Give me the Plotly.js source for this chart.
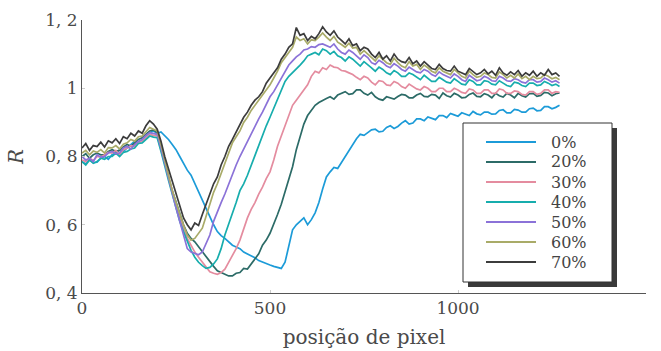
<!DOCTYPE html>
<html>
<head>
<meta charset="utf-8">
<script src="https://cdn.plot.ly/plotly-3.0.1.min.js"></script>
<style>
  html, body { margin: 0; padding: 0; background: #fff; }
  #chart { width: 661px; height: 351px; }
</style>
</head>
<body>
<div id="chart"></div>
<script>
// Pixel positions along the profile (every 10 px)
const pixelPos = [
  0,10,20,30,40,50,60,70,80,90,
  100,110,120,130,140,150,160,170,180,190,
  200,210,220,230,240,250,260,270,280,290,
  300,310,320,330,340,350,360,370,380,390,
  400,410,420,430,440,450,460,470,480,490,
  500,510,520,530,540,550,560,570,580,590,
  600,610,620,630,640,650,660,670,680,690,
  700,710,720,730,740,750,760,770,780,790,
  800,810,820,830,840,850,860,870,880,890,
  900,910,920,930,940,950,960,970,980,990,
  1000,1010,1020,1030,1040,1050,1060,1070,1080,1090,
  1100,1110,1120,1130,1140,1150,1160,1170,1180,1190,
  1200,1210,1220,1230,1240,1250,1260,1270];

const labels = ['0%', '20%', '30%', '40%', '50%', '60%', '70%'];
const colors = ['#1c9bd8', '#2c6b67', '#e48c9f', '#17adad', '#8b72d8', '#a9ab68', '#3c3c3c'];

// Reflectance profiles, one per concentration
const r0 = [
  .785,.778,.79,.782,.783,.795,.80,.792,.805,.81,
  .82,.815,.825,.835,.845,.84,.85,.862,.87,.875,
  .868,.872,.862,.85,.835,.82,.80,.78,.76,.745,
  .72,.695,.67,.65,.625,.60,.58,.568,.56,.55,
  .54,.535,.53,.52,.515,.508,.503,.495,.49,.486,
  .482,.478,.475,.472,.49,.535,.585,.60,.61,.62,
  .60,.615,.635,.665,.705,.74,.755,.768,.765,.782,
  .80,.82,.835,.852,.865,.862,.87,.878,.88,.872,
  .874,.885,.89,.882,.888,.898,.905,.895,.898,.91,
  .91,.905,.916,.912,.908,.92,.92,.914,.926,.922,
  .918,.928,.925,.92,.932,.925,.922,.93,.93,.924,
  .925,.935,.937,.928,.928,.938,.936,.93,.93,.94,
  .942,.934,.935,.946,.946,.94,.944,.95];
const r20 = [
  .80,.808,.795,.805,.81,.805,.805,.815,.82,.815,
  .818,.828,.835,.83,.84,.85,.855,.865,.875,.878,
  .87,.825,.78,.74,.70,.665,.63,.60,.575,.56,
  .55,.535,.52,.505,.49,.478,.465,.46,.455,.45,
  .45,.458,.46,.472,.47,.485,.50,.515,.54,.555,
  .575,.60,.63,.66,.695,.73,.77,.82,.86,.895,
  .92,.935,.95,.958,.965,.97,.975,.968,.98,.985,
  .99,.982,.984,.995,.995,.985,.98,.988,.975,.968,
  .965,.975,.972,.968,.976,.982,.98,.972,.972,.98,
  .985,.976,.975,.982,.98,.97,.986,.978,.974,.985,
  .98,.972,.973,.982,.986,.976,.975,.984,.98,.972,
  .985,.978,.974,.985,.98,.972,.985,.978,.974,.984,
  .985,.976,.979,.988,.986,.978,.984,.986];
const r30 = [
  .79,.785,.795,.788,.80,.798,.805,.812,.81,.818,
  .805,.82,.825,.832,.83,.84,.845,.855,.865,.862,
  .86,.82,.78,.74,.70,.66,.62,.59,.56,.54,
  .52,.505,.49,.475,.462,.458,.455,.46,.47,.49,
  .51,.53,.555,.59,.62,.645,.665,.69,.71,.735,
  .755,.79,.83,.86,.89,.925,.95,.965,.98,.995,
  1.01,1.035,1.05,1.045,1.06,1.055,1.068,1.062,1.06,1.052,
  1.05,1.045,1.04,1.032,1.025,1.035,1.03,1.018,1.01,1.022,
  1.02,1.01,1.008,1.02,1.015,1.005,1.0,1.012,1.005,.998,
  .995,1.005,1.0,.99,.99,1.0,1.0,.99,.99,1.0,
  .995,.988,.985,.998,.995,.985,.985,.995,.995,.985,
  .985,.998,.995,.985,.985,.992,.99,.982,.98,.99,
  .99,.982,.985,.995,.995,.985,.99,.988];
const r40 = [
  .785,.775,.79,.78,.785,.795,.792,.80,.80,.81,
  .80,.812,.815,.822,.825,.838,.84,.85,.86,.857,
  .855,.815,.77,.73,.69,.65,.61,.58,.55,.525,
  .505,.49,.48,.472,.475,.485,.50,.53,.57,.60,
  .63,.665,.70,.72,.745,.775,.80,.83,.86,.89,
  .915,.94,.965,.995,1.02,1.035,1.045,1.058,1.068,1.08,
  1.095,1.10,1.105,1.098,1.115,1.11,1.10,1.108,1.095,1.09,
  1.08,1.092,1.085,1.075,1.065,1.078,1.07,1.06,1.05,1.062,
  1.055,1.045,1.04,1.052,1.045,1.035,1.035,1.045,1.04,1.032,
  1.025,1.038,1.03,1.02,1.02,1.032,1.025,1.018,1.015,1.028,
  1.02,1.012,1.01,1.025,1.02,1.01,1.01,1.022,1.02,1.012,
  1.01,1.022,1.015,1.008,1.005,1.018,1.015,1.008,1.005,1.015,
  1.015,1.008,1.01,1.02,1.015,1.008,1.012,1.005];
const r50 = [
  .80,.79,.795,.785,.805,.798,.80,.81,.815,.808,
  .81,.825,.83,.822,.835,.845,.85,.862,.87,.868,
  .865,.825,.78,.735,.69,.65,.61,.57,.53,.52,
  .515,.512,.52,.545,.57,.61,.64,.665,.69,.72,
  .75,.775,.80,.822,.845,.87,.89,.91,.93,.955,
  .975,.99,1.01,1.03,1.05,1.068,1.08,1.092,1.10,1.112,
  1.115,1.122,1.12,1.128,1.13,1.125,1.12,1.13,1.115,1.105,
  1.10,1.112,1.105,1.095,1.085,1.098,1.09,1.075,1.07,1.082,
  1.075,1.065,1.06,1.072,1.065,1.055,1.05,1.062,1.055,1.048,
  1.045,1.055,1.05,1.04,1.035,1.048,1.04,1.035,1.03,1.042,
  1.035,1.025,1.02,1.038,1.03,1.022,1.025,1.035,1.03,1.022,
  1.02,1.035,1.03,1.022,1.02,1.028,1.025,1.018,1.015,1.025,
  1.025,1.018,1.02,1.03,1.025,1.018,1.022,1.015];
const r60 = [
  .81,.818,.805,.816,.812,.82,.81,.826,.825,.832,
  .822,.836,.84,.85,.845,.858,.86,.872,.885,.88,
  .875,.835,.79,.745,.70,.665,.63,.60,.57,.555,
  .56,.575,.59,.625,.66,.695,.72,.75,.78,.815,
  .84,.858,.875,.90,.915,.935,.95,.962,.98,.995,
  1.01,1.03,1.05,1.075,1.09,1.105,1.12,1.15,1.14,1.145,
  1.13,1.142,1.14,1.15,1.162,1.15,1.14,1.152,1.135,1.128,
  1.12,1.132,1.118,1.12,1.10,1.11,1.10,1.09,1.08,1.095,
  1.085,1.075,1.07,1.088,1.075,1.065,1.06,1.078,1.065,1.07,
  1.055,1.068,1.06,1.05,1.045,1.06,1.05,1.045,1.04,1.055,
  1.045,1.035,1.03,1.05,1.04,1.032,1.035,1.045,1.04,1.032,
  1.03,1.048,1.04,1.03,1.038,1.03,1.042,1.028,1.035,1.025,
  1.035,1.028,1.03,1.04,1.035,1.028,1.032,1.025];
const r70 = [
  .825,.838,.818,.832,.829,.842,.828,.846,.84,.852,
  .838,.858,.852,.868,.86,.875,.868,.89,.905,.895,
  .88,.845,.80,.765,.725,.69,.655,.62,.60,.585,
  .605,.598,.63,.66,.69,.72,.74,.775,.80,.83,
  .85,.872,.89,.915,.93,.95,.965,.975,.99,1.015,
  1.03,1.045,1.06,1.085,1.10,1.12,1.13,1.178,1.155,1.16,
  1.14,1.152,1.145,1.16,1.18,1.165,1.155,1.168,1.15,1.14,
  1.13,1.145,1.125,1.13,1.11,1.12,1.115,1.10,1.09,1.105,
  1.085,1.095,1.08,1.10,1.085,1.078,1.075,1.09,1.072,1.08,
  1.065,1.078,1.068,1.058,1.055,1.07,1.058,1.052,1.05,1.065,
  1.05,1.045,1.04,1.058,1.048,1.04,1.045,1.055,1.042,1.05,
  1.038,1.06,1.045,1.038,1.048,1.04,1.052,1.035,1.045,1.038,
  1.05,1.035,1.045,1.038,1.055,1.04,1.045,1.035];

const series = [r0, r20, r30, r40, r50, r60, r70];

const yTickVals = [0.4, 0.6, 0.8, 1, 1.2];
const yTickText = ['0, 4', '0, 6', '0, 8', '1', '1, 2'];
const xTickVals = [0, 500, 1000, 1500];
const xTickText = ['0', '500', '1000', '1500'];

const serif = 'DejaVu Serif, Liberation Serif, serif';

const traces = series.map((ys, i) => ({
  type: 'scatter',
  mode: 'lines',
  x: pixelPos,
  y: ys,
  name: labels[i],
  showlegend: false,
  line: { color: colors[i], width: 1.7 }
}));

// Legend box drawn in paper coordinates, with a drop shadow
const plotL = 82, plotR = 646, plotT = 20, plotB = 293;
const px2x = p => (p - plotL) / (plotR - plotL);
const px2y = p => (plotB - p) / (plotB - plotT);

const box = { l: 463, r: 612, t: 123, b: 282 };
const shapes = [
  { type: 'rect', xref: 'paper', yref: 'paper', layer: 'above',
    x0: px2x(box.l + 5), x1: px2x(box.r + 5), y0: px2y(box.b + 5), y1: px2y(box.t + 5),
    fillcolor: '#3a3a3a', line: { width: 0 } },
  { type: 'rect', xref: 'paper', yref: 'paper', layer: 'above',
    x0: px2x(box.l), x1: px2x(box.r), y0: px2y(box.b), y1: px2y(box.t),
    fillcolor: '#ffffff', line: { color: '#333', width: 1 } }
];
const annotations = [];
labels.forEach((lab, i) => {
  const yy = 142 + i * 20;
  shapes.push({ type: 'line', xref: 'paper', yref: 'paper', layer: 'above',
    x0: px2x(486), x1: px2x(536), y0: px2y(yy), y1: px2y(yy),
    line: { color: colors[i], width: 2 } });
  annotations.push({ xref: 'paper', yref: 'paper', x: px2x(549), y: px2y(yy),
    xanchor: 'left', yanchor: 'middle', showarrow: false, text: lab,
    font: { family: serif, size: 16, color: '#444' } });
});

const layout = {
  width: 661, height: 351,
  margin: { l: plotL, r: 661 - plotR, t: plotT, b: 351 - plotB },
  paper_bgcolor: '#fff', plot_bgcolor: '#fff',
  showlegend: false,
  font: { family: serif, size: 17, color: '#4a4a4a' },
  xaxis: {
    range: [0, 1500], tickvals: xTickVals, ticktext: xTickText,
    showline: true, linecolor: '#555', linewidth: 1,
    showgrid: false, zeroline: false,
    ticks: 'inside', ticklen: 3, tickcolor: '#ccc',
    title: { text: 'posição de pixel', font: { family: serif, size: 20, color: '#4a4a4a' }, standoff: 12 }
  },
  yaxis: {
    range: [0.4, 1.2], tickvals: yTickVals, ticktext: yTickText,
    showline: true, linecolor: '#555', linewidth: 1,
    showgrid: false, zeroline: false,
    ticks: 'inside', ticklen: 3, tickcolor: '#ccc',
    title: { text: '<i>R</i>', font: { family: serif, size: 20, color: '#4a4a4a' }, standoff: 16 }
  },
  shapes: shapes,
  annotations: annotations
};

Plotly.newPlot('chart', traces, layout, { staticPlot: true, displayModeBar: false });
</script>
</body>
</html>
